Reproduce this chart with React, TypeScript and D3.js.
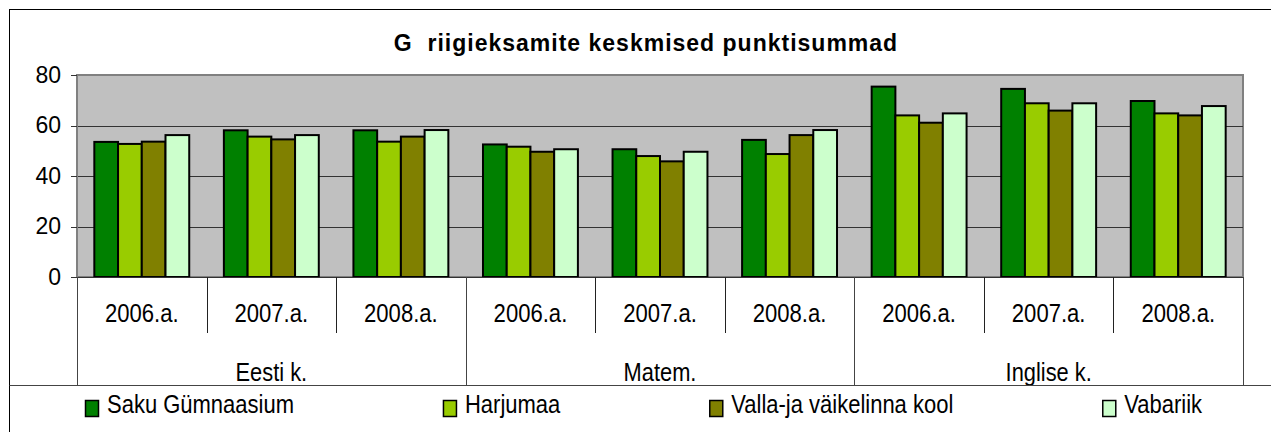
import React, { useEffect, useRef } from 'react';
import * as d3 from 'd3';

// data
const subjects = ['Eesti k.', 'Matem.', 'Inglise k.'];
const years = ['2006.a.', '2007.a.', '2008.a.'];
const seriesNames = ['Saku Gümnaasium', 'Harjumaa', 'Valla-ja väikelinna kool', 'Vabariik'];
const saku = [53.5, 58.1, 58.1, 52.5, 50.6, 54.3, 75.4, 74.5, 69.7];
const harjumaa = [52.7, 55.6, 53.6, 51.6, 47.9, 48.7, 64.0, 68.8, 64.8];
const valla = [53.6, 54.5, 55.6, 49.6, 45.8, 56.2, 61.1, 65.9, 64.0];
const vabariik = [56.2, 56.2, 58.2, 50.6, 49.6, 58.2, 64.8, 68.8, 67.7];
const yTicks = [0, 20, 40, 60, 80];
const colors = ['#008000', '#99CC00', '#808000', '#CCFFCC'];
const title = 'G  riigieksamite keskmised punktisummad';

const font = 'Liberation Sans, Arial, sans-serif';

const App = () => {
  const ref = useRef<SVGSVGElement>(null);

  useEffect(() => {
    const svg = d3.select(ref.current);
    svg.selectAll('*').remove();

    const plot = { left: 77, right: 1243, top: 75, bottom: 277 };
    const yearLineBottom = 333;
    const legendTop = 385;

    const series = [saku, harjumaa, valla, vabariik];
    const cats = subjects.flatMap(s => years.map(y => ({ subject: s, year: y })));
    const catIdx = cats.map((_, i) => String(i));

    const x0 = d3.scaleBand().domain(catIdx).range([plot.left, plot.right]);
    const x1 = d3.scaleBand()
      .domain(seriesNames)
      .range([0, x0.bandwidth()])
      .paddingInner(0)
      .paddingOuter(0.73);
    const xs = d3.scaleBand().domain(subjects).range([plot.left, plot.right]);
    const y = d3.scaleLinear().domain([0, 80]).range([plot.bottom, plot.top]);

    // outer frame
    svg.append('rect')
      .attr('x', 9.5).attr('y', 9.5)
      .attr('width', 1320).attr('height', 440)
      .attr('fill', '#fff').attr('stroke', '#000').attr('stroke-width', 1);

    // title
    svg.append('text')
      .attr('x', 646).attr('y', 51)
      .attr('text-anchor', 'middle')
      .style('font-family', font)
      .style('font-weight', 'bold')
      .style('font-size', '23px')
      .style('letter-spacing', '1px')
      .style('white-space', 'pre')
      .text(title);

    // plot area
    svg.append('rect')
      .attr('x', plot.left).attr('y', plot.top)
      .attr('width', plot.right - plot.left).attr('height', plot.bottom - plot.top)
      .attr('fill', '#C0C0C0').attr('stroke', '#808080').attr('stroke-width', 2);

    // grid lines
    svg.append('g').selectAll('line')
      .data(yTicks.filter(t => t > 0 && t < 80))
      .enter().append('line')
      .attr('x1', plot.left).attr('x2', plot.right)
      .attr('y1', d => Math.round(y(d)) + 0.5).attr('y2', d => Math.round(y(d)) + 0.5)
      .attr('stroke', '#333').attr('stroke-width', 1);

    // bars
    const groups = svg.append('g').selectAll('g')
      .data(cats)
      .enter().append('g')
      .attr('transform', (_, i) => `translate(${x0(String(i))},0)`);

    groups.selectAll('rect')
      .data((_, i) => series.map((s, k) => ({ name: seriesNames[k], value: s[i], color: colors[k] })))
      .enter().append('rect')
      .attr('x', d => x1(d.name) as number)
      .attr('width', x1.bandwidth())
      .attr('y', d => y(d.value))
      .attr('height', d => y(0) - y(d.value))
      .attr('fill', d => d.color)
      .attr('stroke', '#000')
      .attr('stroke-width', 2);

    // y axis
    svg.append('line')
      .attr('x1', plot.left).attr('x2', plot.left)
      .attr('y1', plot.top).attr('y2', plot.bottom)
      .attr('stroke', '#808080').attr('stroke-width', 2);

    const yAxis = svg.append('g');
    yAxis.selectAll('line')
      .data(yTicks)
      .enter().append('line')
      .attr('x1', 71).attr('x2', plot.left)
      .attr('y1', d => Math.round(y(d)) + 0.5).attr('y2', d => Math.round(y(d)) + 0.5)
      .attr('stroke', '#333');
    yAxis.selectAll('text')
      .data(yTicks)
      .enter().append('text')
      .attr('x', 61)
      .attr('y', d => y(d) + 7.5)
      .attr('text-anchor', 'end')
      .style('font-family', font)
      .style('font-size', '23px')
      .text(d => String(d));

    // x axis line
    svg.append('line')
      .attr('x1', 71).attr('x2', plot.right)
      .attr('y1', plot.bottom + 0.5).attr('y2', plot.bottom + 0.5)
      .attr('stroke', '#333');

    // separators between years
    svg.append('g').selectAll('line')
      .data(catIdx.filter((_, i) => i % 3 !== 0))
      .enter().append('line')
      .attr('x1', d => Math.round(x0(d) as number) + 0.5)
      .attr('x2', d => Math.round(x0(d) as number) + 0.5)
      .attr('y1', plot.bottom).attr('y2', yearLineBottom)
      .attr('stroke', '#222');

    // separators between subjects
    const subjEdges = [...subjects.map(s => xs(s) as number), plot.right];
    svg.append('g').selectAll('line')
      .data(subjEdges)
      .enter().append('line')
      .attr('x1', d => Math.round(d) + 0.5).attr('x2', d => Math.round(d) + 0.5)
      .attr('y1', plot.bottom).attr('y2', legendTop)
      .attr('stroke', '#444');

    // year labels
    svg.append('g').selectAll('g')
      .data(cats)
      .enter().append('g')
      .attr('transform', (_, i) => `translate(${(x0(String(i)) as number) + x0.bandwidth() / 2},${322}) scale(0.85,1)`)
      .append('text')
      .attr('text-anchor', 'middle')
      .style('font-family', font)
      .style('font-size', '26px')
      .text(d => d.year);

    // subject labels
    svg.append('g').selectAll('g')
      .data(subjects)
      .enter().append('g')
      .attr('transform', d => `translate(${(xs(d) as number) + xs.bandwidth() / 2},${381}) scale(0.84,1)`)
      .append('text')
      .attr('text-anchor', 'middle')
      .style('font-family', font)
      .style('font-size', '26px')
      .text(d => d);

    // legend
    svg.append('line')
      .attr('x1', 9.5).attr('x2', 1271)
      .attr('y1', legendTop + 0.5).attr('y2', legendTop + 0.5)
      .attr('stroke', '#444');

    const legendScale = 0.88;
    let lx = 85;
    seriesNames.forEach((name, k) => {
      svg.append('rect')
        .attr('x', lx + 0.5).attr('y', 400.5)
        .attr('width', 13).attr('height', 16)
        .attr('fill', colors[k]).attr('stroke', '#000').attr('stroke-width', 1.5);
      const g = svg.append('g')
        .attr('transform', `translate(${lx + 22},413) scale(${legendScale},1)`);
      const t = g.append('text')
        .style('font-family', font)
        .style('font-size', '25px')
        .text(name);
      const w = (t.node() as SVGTextElement).getComputedTextLength() * legendScale;
      lx = lx + 22 + w + 149;
    });
  }, []);

  return (
    <svg
      ref={ref}
      width={1271}
      height={432}
      style={{ position: 'absolute', left: 0, top: 0, background: '#fff' }}
    />
  );
};

export default App;
